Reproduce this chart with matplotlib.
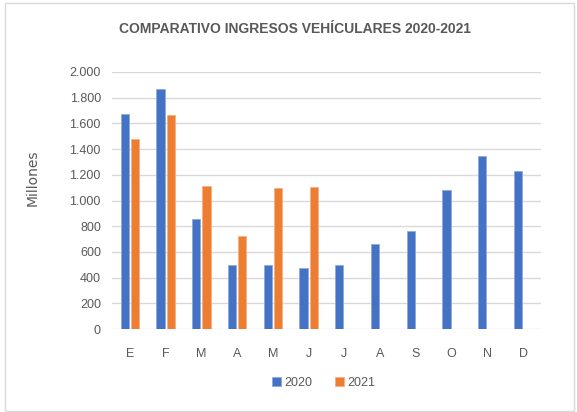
import numpy as np
import matplotlib.pyplot as plt
from matplotlib.patches import Rectangle

# datos (millones)
meses = ['E', 'F', 'M', 'A', 'M', 'J', 'J', 'A', 'S', 'O', 'N', 'D']
ingresos2020 = [1675, 1870, 855, 495, 500, 475, 500, 660, 760, 1078, 1350, 1228]
ingresos2021 = [1482, 1665, 1112, 725, 1095, 1105]
yticks = [0, 200, 400, 600, 800, 1000, 1200, 1400, 1600, 1800, 2000]

plt.rcParams['font.family'] = ['Liberation Sans Narrow', 'Liberation Sans', 'DejaVu Sans']

azul = '#4472C4'
naranja = '#ED7D31'
gris = '#595959'

fig = plt.figure(figsize=(5.77, 4.12), dpi=100)
ax = fig.add_axes([112/577, 1-329/412, (541-112)/577, (329-72)/412])

x = np.arange(len(meses))
ancho = 0.23
ax.bar(x - 0.145, ingresos2020, ancho, color=azul, edgecolor='#8FAADC', linewidth=0.6, label='2020', zorder=3)
ax.bar(x[:len(ingresos2021)] + 0.145, ingresos2021, ancho, color=naranja, edgecolor='#F4B183', linewidth=0.6, label='2021', zorder=3)

ax.set_xlim(-0.5, len(meses) - 0.5)
ax.set_ylim(0, 2000)
ax.set_yticks(yticks)
ax.set_yticklabels([f'{v:,}'.replace(',', '.') for v in yticks])
ax.set_xticks(x)
ax.set_xticklabels(meses)
ax.grid(axis='y', color='#D9D9D9', linewidth=1.0, zorder=0)
for s in ax.spines.values():
    s.set_visible(False)
ax.tick_params(axis='both', length=0, colors=gris, labelsize=9)
ax.tick_params(axis='x', pad=14)
ax.tick_params(axis='y', pad=8)

fig.text(295/577, 1-29/412, 'COMPARATIVO INGRESOS VEHÍCULARES 2020-2021',
         ha='center', va='center', fontsize=10, fontweight='bold', color=gris)
fig.text(33/577, 1-178/412, 'Millones', rotation=90, ha='center', va='center',
         fontsize=10, color=gris, family=['DejaVu Sans'])

fig.legend(loc='center', bbox_to_anchor=(324/577, 1-383/412), ncol=2, frameon=False,
           fontsize=9, handlelength=0.7, handleheight=0.7, handletextpad=0.3,
           columnspacing=1.8, labelcolor=gris)

fig.patches.append(Rectangle((5/577, 1/412), 569/577, 408/412, transform=fig.transFigure,
                             fill=False, edgecolor='#D9D9D9', linewidth=1.0))

fig.savefig('out.png', dpi=100)
